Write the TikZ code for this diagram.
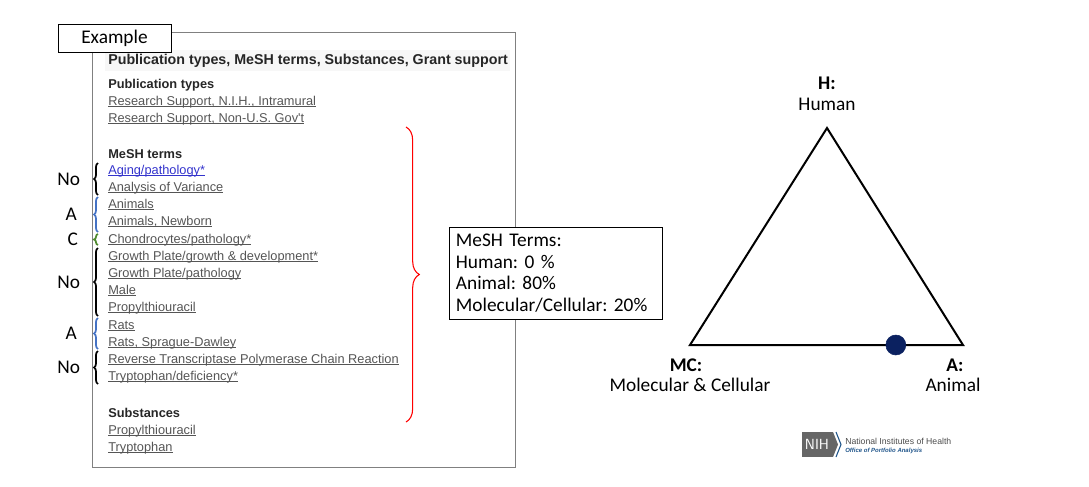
\documentclass[tikz,border=0pt]{standalone}
\usepackage{fontspec}
\setmainfont{Carlito}
\newfontfamily\arialfont{Liberation Sans}
\usetikzlibrary{decorations.pathreplacing, calc}
\definecolor{linkgray}{HTML}{555555}
\definecolor{linkblue}{HTML}{3333CC}
\definecolor{bracegreen}{HTML}{4E8A2E}
\definecolor{braceblue}{HTML}{4472C4}
\definecolor{dotnavy}{HTML}{0B2160}
\definecolor{nihblue}{HTML}{20558A}
\newsavebox{\lnkbox}
\newcommand{\lnk}[1]{\sbox{\lnkbox}{#1}\rlap{\rule[-1.3pt]{\wd\lnkbox}{0.5pt}}\usebox{\lnkbox}}
\frenchspacing
\tikzset{
    every node/.style={inner sep=0pt},
    listitem/.style={anchor=base west, font=\arialfont\fontsize{9.6}{10}\selectfont,
        text=linkgray, yshift=-3.3pt},
    listhead/.style={anchor=base west, font=\arialfont\bfseries\fontsize{9.6}{10}\selectfont,
        text=black!85, yshift=-3.3pt},
    calibri/.style={font=\fontsize{14.5}{18}\selectfont},
    calibold/.style={font=\bfseries\fontsize{14.5}{18}\selectfont},
    termbrace/.style={decorate, decoration={brace, amplitude=3pt}, line width=1.3pt},
}
\begin{document}
\begin{tikzpicture}[x=0.75pt, y=-0.75pt]
        \useasboundingbox (0, 0) rectangle (1089, 486);
        % record panel
        \draw[gray] (92, 32) rectangle (515, 467);
        \fill[black!3] (105, 50) rectangle (510, 71);
        \node[listhead, font=\arialfont\bfseries\fontsize{10.7}{12}\selectfont]
            (hdr) at (108, 60) {Publication types, MeSH terms, Substances, Grant support};
        \node[draw, fill=white, calibri, minimum width=85pt, minimum height=21pt]
            (example) at (114.5, 38) {Example};
        \node[listhead] (pubtypes) at (108, 84) {Publication types};
        \node[listitem] (pt1) at (108, 101) {\lnk{Research Support, N.I.H., Intramural}};
        \node[listitem] (pt2) at (108, 118) {\lnk{Research Support, Non-U.S. Gov't}};
        \node[listhead] (mesh) at (108, 154) {MeSH terms};
        \node[listitem, text=linkblue] (m1) at (108, 170) {\lnk{Aging/pathology*}};
        \foreach \name/\y/\txt in {m2/187/Analysis of Variance, m3/204/Animals,
            m4/221/{Animals, Newborn}, m5/239/Chondrocytes\slash pathology*,
            m6/256/Growth Plate\slash growth \& development*,
            m7/273/Growth Plate\slash pathology, m8/290/Male, m9/307/Propylthiouracil,
            m10/325/Rats, m11/342/{Rats, Sprague-Dawley},
            m12/359/Reverse Transcriptase Polymerase Chain Reaction,
            m13/376/Tryptophan\slash deficiency*}
            \node[listitem] (\name) at (108, \y) {\lnk{\txt}};
        \node[listhead] (subst) at (108, 413) {Substances};
        \node[listitem] (s1) at (108, 430) {\lnk{Propylthiouracil}};
        \node[listitem] (s2) at (108, 447) {\lnk{Tryptophan}};
        % category braces
        \draw[termbrace] (98, 195) -- (98, 163) node[midway, calibri, xshift=-22pt] {No};
        \draw[termbrace, braceblue] (98, 232) -- (98, 197) node[midway, calibri, text=black, xshift=-20pt] {A};
        \draw[termbrace, bracegreen] (98, 245) -- (98, 234) node[midway, calibri, text=black, xshift=-19pt] {C};
        \draw[termbrace] (98, 316) -- (98, 248) node[midway, calibri, xshift=-22pt] {No};
        \draw[termbrace, braceblue] (98, 349) -- (98, 318) node[midway, calibri, text=black, xshift=-20pt] {A};
        \draw[termbrace] (98, 384) -- (98, 351) node[midway, calibri, xshift=-22pt] {No};
        \draw[red, thick, decorate, decoration={brace, amplitude=10pt}] (406, 127) -- (406, 422);
        % summary box
        \node[draw, fill=white, calibri, anchor=north west, align=left, inner sep=5pt,
            text width=150pt, font=\fontsize{14.5}{16.2}\selectfont] (summary) at (449, 227)
            {MeSH Terms:\\Human: 0 \%\\Animal: 80\%\\Molecular/Cellular: 20\%};
        % triangle
        \coordinate (top) at (827, 128);
        \coordinate (left) at (690, 345);
        \coordinate (right) at (963, 345);
        \draw[line width=1.5pt, line join=miter] (top) -- (left) -- (right) -- cycle;
        \filldraw[dotnavy] ($(left)!0.754!(right)$) circle (10);
        \node[calibold] (hlab) at (827, 83) {H:};
        \node[calibri] (human) at (827, 104) {Human};
        \node[calibold] (mclab) at (686, 365) {MC:};
        \node[calibri] (molcel) at (690, 385) {Molecular \& Cellular};
        \node[calibold] (alab) at (955, 365) {A:};
        \node[calibri] (animal) at (953, 385) {Animal};
        % logo
        \fill[black!60] (802, 432) rectangle (833, 457);
        \fill[black!60] (833, 432) -- (838, 444.5) -- (833, 457) -- cycle;
        \draw[nihblue, thick] (836, 432) -- (841, 444.5) -- (836, 457);
        \node[text=white, font=\sffamily\fontsize{11}{12}\selectfont] (nih) at (817, 444.5) {NIH};
        \node[anchor=west, text=black!70, font=\arialfont\fontsize{6.5}{7}\selectfont]
            (nihname) at (845, 441) {National Institutes of Health};
        \node[anchor=west, text=nihblue, font=\arialfont\bfseries\itshape\fontsize{4.5}{5}\selectfont]
            (opa) at (845, 451) {Office of Portfolio Analysis};
    \end{tikzpicture}
\end{document}
